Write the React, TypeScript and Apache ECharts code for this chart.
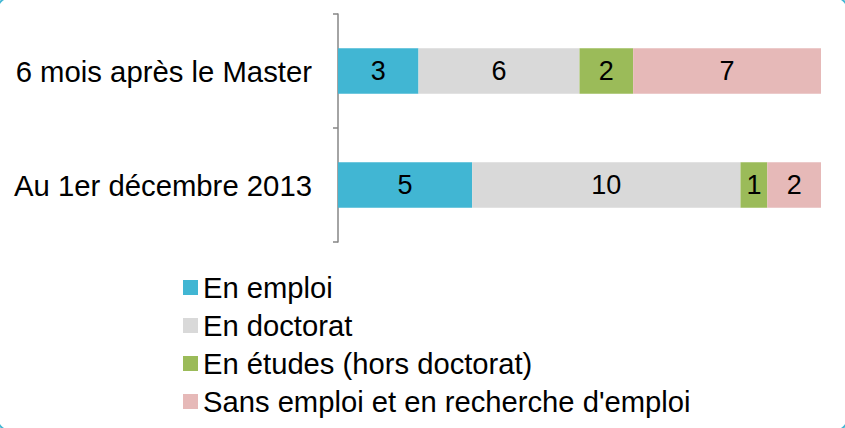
import React, { useEffect, useRef } from "react";
import * as echarts from "echarts";

const categories = ["6 mois après le Master", "Au 1er décembre 2013"];
const seriesNames = ["En emploi", "En doctorat", "En études (hors doctorat)", "Sans emploi et en recherche d'emploi"];
const enEmploi = [3, 5];
const enDoctorat = [6, 10];
const enEtudes = [2, 1];
const sansEmploi = [7, 2];
const colors = ["#41b6d3", "#d9d9d9", "#9bbb59", "#e6b9b8"];

export default function App() {
  const ref = useRef<HTMLDivElement>(null);
  useEffect(() => {
    if (!ref.current) return;
    const chart = echarts.init(ref.current, null, { renderer: "svg" });
    const values = [enEmploi, enDoctorat, enEtudes, sansEmploi];
    const font = "Liberation Sans, Arial, sans-serif";
    chart.setOption({
      animation: false,
      textStyle: { fontFamily: font },
      grid: { left: 338, right: 24, top: 14, bottom: 186 },
      xAxis: { type: "value", min: 0, max: 18, show: false },
      yAxis: {
        type: "category",
        data: categories,
        inverse: true,
        axisLine: { show: true, lineStyle: { color: "#868686", width: 1.5 } },
        axisTick: { show: true, length: 5, lineStyle: { color: "#868686", width: 1.5 } },
        axisLabel: { color: "#000", fontSize: 29.3, margin: 26, fontFamily: font },
      },
      legend: {
        orient: "vertical",
        left: 178,
        top: 268,
        itemWidth: 15,
        itemHeight: 15,
        itemGap: 9,
        icon: "rect",
        textStyle: { color: "#000", fontSize: 29.2, fontFamily: font, padding: [0, 0, 0, 0] },
        data: seriesNames,
      },
      series: seriesNames.map((name, i) => ({
        name,
        type: "bar",
        stack: "total",
        data: values[i],
        barWidth: "40%",
        itemStyle: { color: colors[i] },
        label: { show: true, position: "inside", color: "#000", fontSize: 27, fontFamily: font },
      })),
      graphic: [
        {
          type: "rect",
          shape: { x: -3, y: -3, width: 851, height: 434, r: 14 },
          style: { fill: "none", stroke: "#41b6d3", lineWidth: 2 },
          silent: true,
        },
      ],
    });
    return () => chart.dispose();
  }, []);
  return (
    <div
      ref={ref}
      style={{ position: "fixed", left: 0, top: 0, width: 845, height: 428, background: "#fff" }}
    />
  );
}
